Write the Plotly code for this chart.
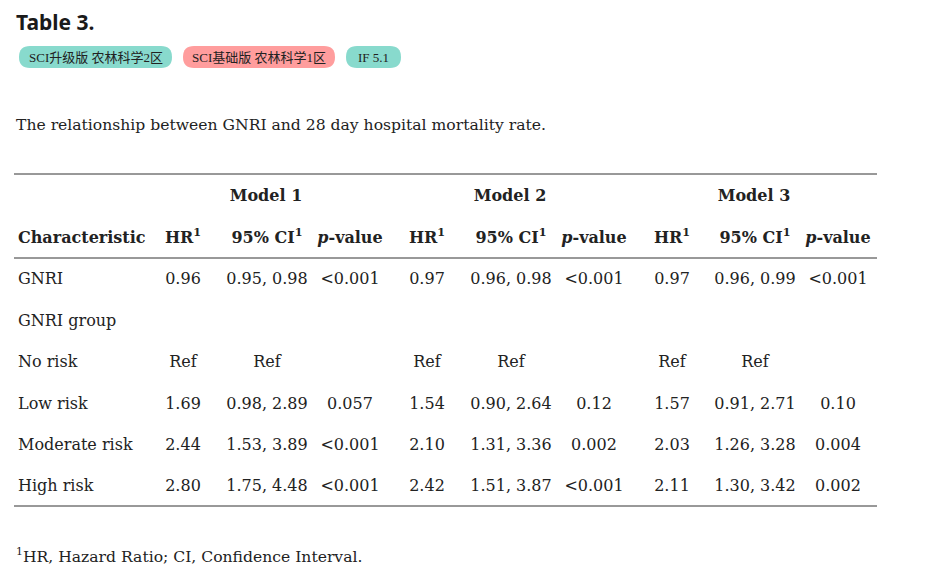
import plotly.graph_objects as go

# table contents
rows = ["GNRI", "GNRI group", "No risk", "Low risk", "Moderate risk", "High risk"]
models = ["Model 1", "Model 2", "Model 3"]
col_heads = ["HR<sup>1</sup>", "95% CI<sup>1</sup>", "<i>p</i>-value"]

m1_hr = ["0.96", "", "Ref", "1.69", "2.44", "2.80"]
m1_ci = ["0.95, 0.98", "", "Ref", "0.98, 2.89", "1.53, 3.89", "1.75, 4.48"]
m1_p = ["<0.001", "", "", "0.057", "<0.001", "<0.001"]
m2_hr = ["0.97", "", "Ref", "1.54", "2.10", "2.42"]
m2_ci = ["0.96, 0.98", "", "Ref", "0.90, 2.64", "1.31, 3.36", "1.51, 3.87"]
m2_p = ["<0.001", "", "", "0.12", "0.002", "<0.001"]
m3_hr = ["0.97", "", "Ref", "1.57", "2.03", "2.11"]
m3_ci = ["0.96, 0.99", "", "Ref", "0.91, 2.71", "1.26, 3.28", "1.30, 3.42"]
m3_p = ["<0.001", "", "", "0.10", "0.004", "0.002"]

badges = ["SCI升级版 农林科学2区", "SCI基础版 农林科学1区", "IF 5.1"]
badge_colors = ["#88dacd", "#ff9d9d", "#88dacd"]

title = "Table 3."
caption = "The relationship between GNRI and 28 day hospital mortality rate."
footnote = "<sup>1</sup>HR, Hazard Ratio; CI, Confidence Interval."

# layout (page body has an 8px margin, so the axes start at 8)
serif = "DejaVu Serif"
ink = "#222222"
col_x = [183, 267, 350, 427, 511, 594, 672, 755, 838]
model_x = [266, 510, 754]
row_y = [280, 322, 363, 405, 446, 487]
cols = [m1_hr, m1_ci, m1_p, m2_hr, m2_ci, m2_p, m3_hr, m3_ci, m3_p]

fig = go.Figure()

def text_trace(xs, ys, labels, pos="middle center", size=16):
    keep = [(a, b, t) for a, b, t in zip(xs, ys, labels) if t]
    fig.add_trace(go.Scatter(
        x=[k[0] for k in keep], y=[k[1] for k in keep],
        text=[k[2].replace("<0", "&lt;0") for k in keep],
        mode="text", textposition=pos,
        textfont=dict(family=serif, size=size, color=ink), hoverinfo="skip"))

# body cells
for cx, vals in zip(col_x, cols):
    text_trace([cx] * len(vals), row_y, vals)

# row labels
text_trace([18] * len(rows), row_y, rows, pos="middle right")

# headers
text_trace(model_x, [197] * 3, ["<b>%s</b>" % m for m in models])
text_trace(col_x, [239] * 9, ["<b>%s</b>" % h for h in col_heads * 3])
text_trace([18], [239], ["<b>Characteristic</b>"], pos="middle right")

# rules
for yy in [174, 258, 506]:
    fig.add_shape(type="line", x0=14, x1=877, y0=yy, y1=yy, xref="x", yref="y",
                  line=dict(color="#333333", width=1))

# badges (pills)
bx = [(19, 172), (183, 335), (346, 401)]
for (x0, x1), lab, c in zip(bx, badges, badge_colors):
    r = 11
    y0, y1 = 46, 68
    path = (f"M {x0+r},{y0} L {x1-r},{y0} Q {x1},{y0} {x1},{y0+r} "
            f"Q {x1},{y1} {x1-r},{y1} L {x0+r},{y1} Q {x0},{y1} {x0},{y0+r} "
            f"Q {x0},{y0} {x0+r},{y0} Z")
    fig.add_shape(type="path", path=path, xref="x", yref="y",
                  fillcolor=c, line=dict(width=0), layer="below")
    fig.add_annotation(x=(x0 + x1) / 2, y=57, text=lab, showarrow=False,
                       xref="x", yref="y",
                       font=dict(family="Liberation Serif, Noto Sans CJK SC", size=13,
                                 color="#222222"))

fig.add_annotation(x=14, y=22, text="<b>%s</b>" % title, showarrow=False,
                   xref="x", yref="y", xanchor="left",
                   font=dict(family="Noto Sans", size=21, color="#1a1a1a"))
fig.add_annotation(x=14, y=125, text=caption, showarrow=False,
                   xref="x", yref="y", xanchor="left",
                   font=dict(family=serif, size=15.6, color=ink))
fig.add_annotation(x=14, y=555, text=footnote, showarrow=False,
                   xref="x", yref="y", xanchor="left",
                   font=dict(family=serif, size=15.6, color=ink))

fig.update_layout(
    width=925, height=578, margin=dict(l=0, r=0, t=0, b=0),
    paper_bgcolor="white", plot_bgcolor="white", showlegend=False,
    xaxis=dict(range=[8, 933], visible=False, fixedrange=True),
    yaxis=dict(range=[586, 8], visible=False, fixedrange=True),
)

fig.write_html("out.html")
